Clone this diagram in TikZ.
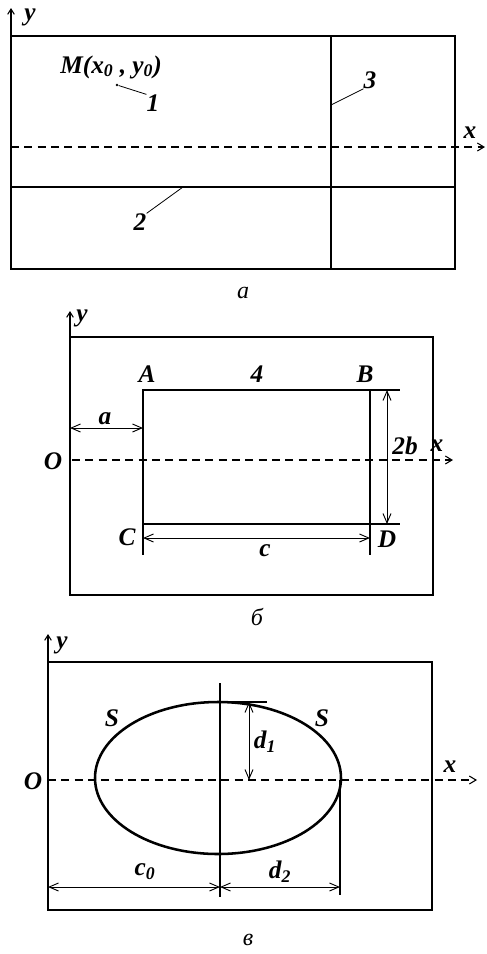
\documentclass[tikz,border=0pt]{standalone}
\usepackage{fontspec}
\setmainfont{Liberation Serif}
\usetikzlibrary{arrows.meta}

\begin{document}
\begin{tikzpicture}[x=0.75pt,y=-0.75pt,line cap=butt,line join=miter,
  thinline/.style={line width=0.8pt},
  thickline/.style={line width=1.9pt},
  axisline/.style={line width=0.8pt,dash pattern=on 6pt off 4pt,-{Straight Barb[length=5pt,width=6pt]}},
  yaxisline/.style={line width=0.8pt,-{Straight Barb[length=4pt,width=5pt]}},
  dimline/.style={line width=0.7pt,{Straight Barb[length=7pt,width=6pt]}-{Straight Barb[length=7pt,width=6pt]}},
  leader/.style={line width=0.6pt},
  lbl/.style={font=\fontsize{19}{21}\selectfont\bfseries\itshape,inner sep=0pt},
  caption/.style={font=\fontsize{18}{20}\selectfont\itshape,inner sep=0pt}]
\useasboundingbox (0,0) rectangle (486,954);
\fill[white] (0,0) rectangle (486,954);
% panel a
\coordinate (aTL) at (11,36);
\coordinate (aBR) at (455,269);
\coordinate (aYtip) at (11,8);
\coordinate (aX0) at (11,147);
\coordinate (aXtip) at (485,147);
\draw[thinline] (aTL) rectangle (aBR);
\draw[yaxisline] (aTL) -- (aYtip);
\draw[axisline] (aX0) -- (aXtip);
\coordinate (aL2a) at (11,187);
\coordinate (aL2b) at (455,187);
\coordinate (aL3a) at (331,36);
\coordinate (aL3b) at (331,269);
\draw[thickline] (aL2a) -- (aL2b);
\draw[thickline] (aL3a) -- (aL3b);
\node[lbl] (ay) at (30,17) {y};
\node[lbl] (ax) at (470,133) {x};
\node[lbl] (aM) at (111,67) {M(x\textsubscript{0} , y\textsubscript{0})};
\node[circle,fill=black,inner sep=0pt,minimum size=2.2pt] (mpt) at (117,85) {};
\node[lbl] (n1) at (153,103) {1};
\node[lbl] (n2) at (140,222) {2};
\node[lbl] (n3) at (370,80) {3};
\coordinate (on2) at (183,187);
\coordinate (on3) at (331,105);
\draw[leader] (mpt) -- (n1.north west);
\draw[leader] (on2) -- (n2.north east);
\draw[leader] (on3) -- (n3.south west);
\node[caption] (capa) at (243,293) {а};
% panel b
\coordinate (bTL) at (70,337);
\coordinate (bBR) at (433,595);
\coordinate (bYtip) at (70,311);
\coordinate (bX0) at (72,460);
\coordinate (bXtip) at (453,460);
\draw[thinline] (bTL) rectangle (bBR);
\draw[yaxisline] (bTL) -- (bYtip);
\draw[axisline] (bX0) -- (bXtip);
\coordinate (bA) at (143,390);
\coordinate (bB) at (370,390);
\coordinate (bC) at (143,524);
\coordinate (bD) at (370,524);
\draw[thickline] (bA) -- (bB) -- (bD) -- (bC) -- cycle;
\coordinate (bBe) at (400,390);
\coordinate (bDe) at (400,524);
\coordinate (bCe) at (143,555);
\coordinate (bDd) at (370,555);
\draw[thinline] (bB) -- (bBe);
\draw[thinline] (bD) -- (bDe);
\draw[thinline] (bC) -- (bCe);
\draw[thinline] (bD) -- (bDd);
\coordinate (b2bT) at (387,390);
\coordinate (b2bB) at (387,524);
\draw[dimline] (b2bT) -- (b2bB);
\coordinate (baL) at (70,428);
\coordinate (baR) at (143,428);
\draw[dimline] (baL) -- (baR);
\coordinate (bcL) at (143,538);
\coordinate (bcR) at (370,538);
\draw[dimline] (bcL) -- (bcR);
\node[lbl] (by) at (82,318) {y};
\node[lbl] (bx) at (437,446) {x};
\node[lbl] (bO) at (53,461) {O};
\node[lbl] (lA) at (147,374) {A};
\node[lbl] (l4) at (257,374) {4};
\node[lbl] (lB) at (365,374) {B};
\node[lbl] (lC) at (127,537) {C};
\node[lbl] (lD) at (387,539) {D};
\node[lbl] (la) at (105,419) {a};
\node[lbl] (l2b) at (405,446) {2b};
\node[lbl] (lc) at (265,551) {c};
\node[caption] (capb) at (257,617) {б};
% panel v
\coordinate (vTL) at (48,662);
\coordinate (vBR) at (432,910);
\coordinate (vYtip) at (48,634);
\coordinate (vX0) at (48,780);
\coordinate (vXtip) at (477,780);
\draw[thinline] (vTL) rectangle (vBR);
\draw[yaxisline] (vTL) -- (vYtip);
\draw[axisline] (vX0) -- (vXtip);
\coordinate (vC) at (218,778);
\draw[thickline] (vC) ellipse [x radius=123, y radius=76];
\coordinate (vVa) at (220,683);
\coordinate (vVb) at (220,897);
\draw[thinline] (vVa) -- (vVb);
\coordinate (vTop) at (220,702);
\coordinate (vTopE) at (267,702);
\draw[thinline] (vTop) -- (vTopE);
\coordinate (vR) at (340,780);
\coordinate (vRe) at (340,895);
\draw[thinline] (vR) -- (vRe);
\coordinate (vd1T) at (249,702);
\coordinate (vd1B) at (249,780);
\draw[dimline] (vd1T) -- (vd1B);
\coordinate (vc0L) at (48,887);
\coordinate (vc0R) at (220,887);
\coordinate (vd2R) at (340,887);
\draw[dimline] (vc0L) -- (vc0R);
\draw[dimline] (vc0R) -- (vd2R);
\node[lbl] (vy) at (62,645) {y};
\node[lbl] (vx) at (450,767) {x};
\node[lbl] (vO) at (33,781) {O};
\node[lbl] (vS1) at (112,718) {S};
\node[lbl] (vS2) at (322,718) {S};
\node[lbl] (vd1) at (265,742) {d\textsubscript{1}};
\node[lbl] (vc0) at (145,872) {c\textsubscript{0}};
\node[lbl] (vd2) at (280,872) {d\textsubscript{2}};
\node[caption] (capv) at (248,940) {в};
\end{tikzpicture}
\end{document}
